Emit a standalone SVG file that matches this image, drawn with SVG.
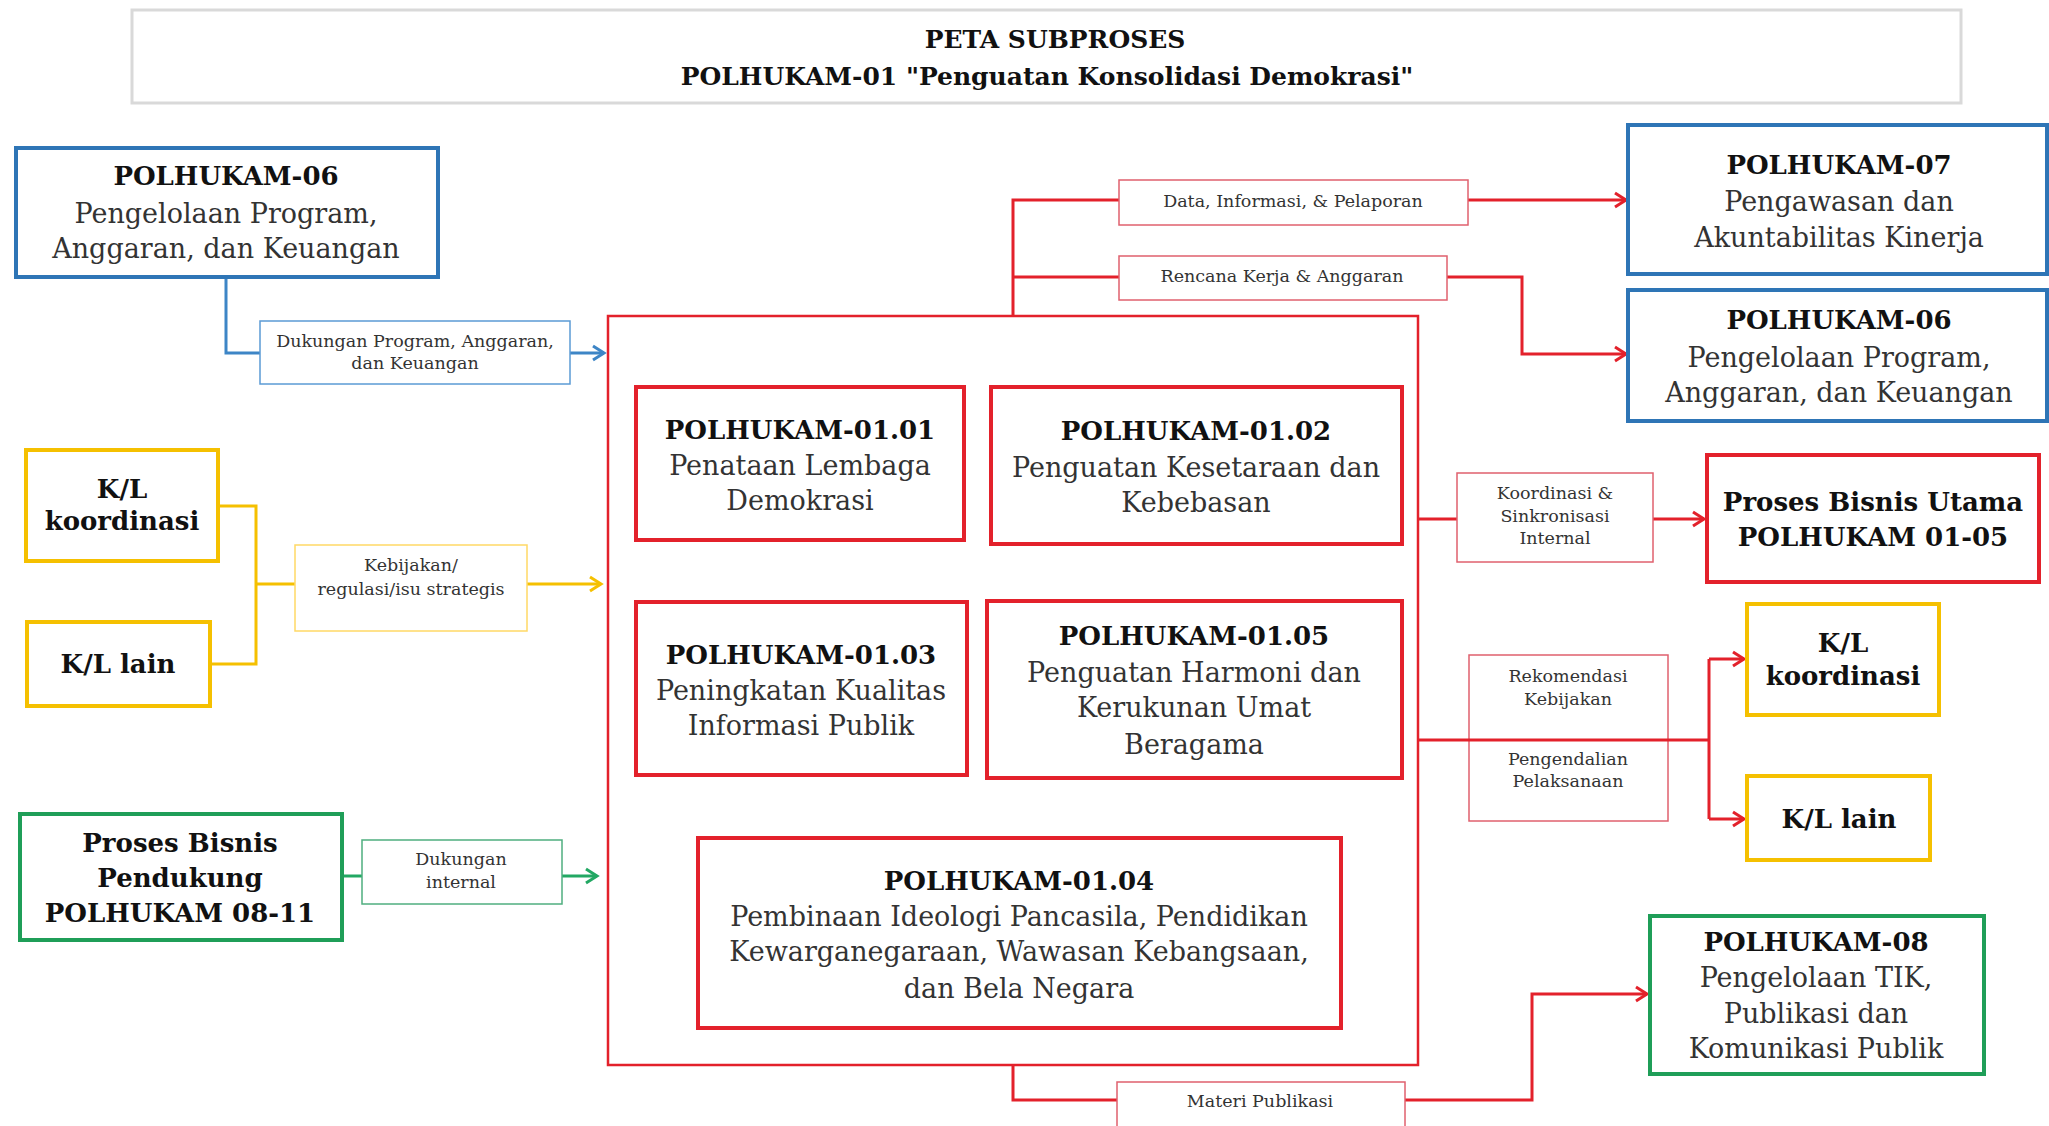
<svg xmlns="http://www.w3.org/2000/svg" width="2049" height="1126" viewBox="0 0 2049 1126">
<defs>
<style>
text{font-family:"DejaVu Serif","Liberation Serif",serif;text-anchor:middle;dominant-baseline:central;}
.h{font-weight:bold;font-size:26px;fill:#111;}
.b{font-size:27px;fill:#333;}
.t{font-weight:bold;font-size:25px;fill:#111;}
.l{font-size:17.5px;fill:#333;}
.nb{fill:#fff;stroke:#2e75b6;stroke-width:4;}
.ny{fill:#fff;stroke:#f5c000;stroke-width:4;}
.ng{fill:#fff;stroke:#1f9e58;stroke-width:4;}
.nr{fill:#fff;stroke:#e3212b;stroke-width:4;}
.lb{fill:#fff;stroke:#5b9bd5;stroke-width:1.5;}
.ly{fill:#fff;stroke:#ffd966;stroke-width:1.5;}
.lg{fill:#fff;stroke:#4fae7f;stroke-width:1.5;}
.lr{fill:#fff;stroke:#e0606e;stroke-width:1.5;}
.cb{fill:none;stroke:#3d85c6;stroke-width:3;}
.cy{fill:none;stroke:#f5c000;stroke-width:3;}
.cg{fill:none;stroke:#22a863;stroke-width:3;}
.cr{fill:none;stroke:#e3212b;stroke-width:3;}
</style>
<marker id="ab" markerUnits="userSpaceOnUse" markerWidth="16" markerHeight="18" refX="13" refY="9" orient="auto"><path d="M2,2 L13,9 L2,16" fill="none" stroke="#3d85c6" stroke-width="3"/></marker>
<marker id="ay" markerUnits="userSpaceOnUse" markerWidth="16" markerHeight="18" refX="13" refY="9" orient="auto"><path d="M2,2 L13,9 L2,16" fill="none" stroke="#f5c000" stroke-width="3"/></marker>
<marker id="ag" markerUnits="userSpaceOnUse" markerWidth="16" markerHeight="18" refX="13" refY="9" orient="auto"><path d="M2,2 L13,9 L2,16" fill="none" stroke="#22a863" stroke-width="3"/></marker>
<marker id="ar" markerUnits="userSpaceOnUse" markerWidth="16" markerHeight="18" refX="13" refY="9" orient="auto"><path d="M2,2 L13,9 L2,16" fill="none" stroke="#e3212b" stroke-width="3"/></marker>
</defs>
<rect width="2049" height="1126" fill="#fff"/>

<g id="title">
<rect x="132" y="10" width="1829" height="93" fill="#fff" stroke="#d9d9d9" stroke-width="3"/>
<text class="t" x="1055" y="39">PETA SUBPROSES</text>
<text class="t" x="1047" y="76">POLHUKAM-01 "Penguatan Konsolidasi Demokrasi"</text>
</g>

<g id="container">
<rect x="608" y="316" width="810" height="749" fill="#fff" stroke="#e3212b" stroke-width="2.5"/>
</g>

<g id="connectors">
<path class="cb" d="M226,277 V353 H260"/>
<path class="cb" d="M570,353 H604" marker-end="url(#ab)"/>
<path class="cy" d="M218,506 H256 V664 H210 M256,584 H295"/>
<path class="cy" d="M527,584 H601" marker-end="url(#ay)"/>
<path class="cg" d="M342,876 H362"/>
<path class="cg" d="M562,876 H597" marker-end="url(#ag)"/>
<path class="cr" d="M1013,316 V200 H1119 M1013,277 H1119"/>
<path class="cr" d="M1468,200 H1626" marker-end="url(#ar)"/>
<path class="cr" d="M1447,277 H1522 V354 H1626" marker-end="url(#ar)"/>
<path class="cr" d="M1418,519 H1457"/>
<path class="cr" d="M1653,519 H1704" marker-end="url(#ar)"/>
<path class="cr" d="M1013,1065 V1100 H1117"/>
<path class="cr" d="M1405,1100 H1532 V994 H1647" marker-end="url(#ar)"/>
</g>

<g id="lbl-dukungan-program">
<rect class="lb" x="260" y="321" width="310" height="63"/>
<text class="l" x="415" y="341">Dukungan Program, Anggaran,</text>
<text class="l" x="415" y="363">dan Keuangan</text>
</g>
<g id="lbl-kebijakan">
<rect class="ly" x="295" y="545" width="232" height="86"/>
<text class="l" x="411" y="565">Kebijakan/</text>
<text class="l" x="411" y="589">regulasi/isu strategis</text>
</g>
<g id="lbl-dukungan-internal">
<rect class="lg" x="362" y="840" width="200" height="64"/>
<text class="l" x="461" y="859">Dukungan</text>
<text class="l" x="461" y="882">internal</text>
</g>
<g id="lbl-data">
<rect class="lr" x="1119" y="180" width="349" height="45"/>
<text class="l" x="1293" y="201">Data, Informasi, &amp; Pelaporan</text>
</g>
<g id="lbl-rencana">
<rect class="lr" x="1119" y="256" width="328" height="44"/>
<text class="l" x="1282" y="276">Rencana Kerja &amp; Anggaran</text>
</g>
<g id="lbl-koordinasi">
<rect class="lr" x="1457" y="473" width="196" height="89"/>
<text class="l" x="1555" y="493">Koordinasi &amp;</text>
<text class="l" x="1555" y="516">Sinkronisasi</text>
<text class="l" x="1555" y="538">Internal</text>
</g>
<g id="lbl-rekomendasi">
<rect class="lr" x="1469" y="655" width="199" height="166"/>
<text class="l" x="1568" y="676">Rekomendasi</text>
<text class="l" x="1568" y="699">Kebijakan</text>
<text class="l" x="1568" y="759">Pengendalian</text>
<text class="l" x="1568" y="781">Pelaksanaan</text>
</g>
<g id="lbl-materi">
<rect class="lr" x="1117" y="1082" width="288" height="50"/>
<text class="l" x="1260" y="1101">Materi Publikasi</text>
</g>

<g id="connectors-over">
<path class="cr" d="M1418,740 H1709 M1709,659 V819"/>
<path class="cr" d="M1709,659 H1744" marker-end="url(#ar)"/>
<path class="cr" d="M1709,819 H1744" marker-end="url(#ar)"/>
</g>

<g id="n-polhukam06-left">
<rect class="nb" x="16" y="148" width="422" height="129"/>
<text class="h" x="226" y="176">POLHUKAM-06</text>
<text class="b" x="226" y="213">Pengelolaan Program,</text>
<text class="b" x="226" y="248">Anggaran, dan Keuangan</text>
</g>
<g id="n-kl-koordinasi-left">
<rect class="ny" x="26" y="450" width="192" height="111"/>
<text class="h" x="122" y="489">K/L</text>
<text class="h" x="122" y="521">koordinasi</text>
</g>
<g id="n-kl-lain-left">
<rect class="ny" x="27" y="622" width="183" height="84"/>
<text class="h" x="118" y="664">K/L lain</text>
</g>
<g id="n-pendukung">
<rect class="ng" x="20" y="814" width="322" height="126"/>
<text class="h" x="180" y="843">Proses Bisnis</text>
<text class="h" x="180" y="878">Pendukung</text>
<text class="h" x="180" y="913">POLHUKAM 08-11</text>
</g>

<g id="n-0101">
<rect class="nr" x="636" y="387" width="328" height="153"/>
<text class="h" x="800" y="430">POLHUKAM-01.01</text>
<text class="b" x="800" y="465">Penataan Lembaga</text>
<text class="b" x="800" y="500">Demokrasi</text>
</g>
<g id="n-0102">
<rect class="nr" x="991" y="387" width="411" height="157"/>
<text class="h" x="1196" y="431">POLHUKAM-01.02</text>
<text class="b" x="1196" y="467">Penguatan Kesetaraan dan</text>
<text class="b" x="1196" y="502">Kebebasan</text>
</g>
<g id="n-0103">
<rect class="nr" x="636" y="602" width="331" height="173"/>
<text class="h" x="801" y="655">POLHUKAM-01.03</text>
<text class="b" x="801" y="690">Peningkatan Kualitas</text>
<text class="b" x="801" y="725">Informasi Publik</text>
</g>
<g id="n-0105">
<rect class="nr" x="987" y="601" width="415" height="177"/>
<text class="h" x="1194" y="636">POLHUKAM-01.05</text>
<text class="b" x="1194" y="672">Penguatan Harmoni dan</text>
<text class="b" x="1194" y="707">Kerukunan Umat</text>
<text class="b" x="1194" y="744">Beragama</text>
</g>
<g id="n-0104">
<rect class="nr" x="698" y="838" width="643" height="190"/>
<text class="h" x="1019" y="881">POLHUKAM-01.04</text>
<text class="b" x="1019" y="916">Pembinaan Ideologi Pancasila, Pendidikan</text>
<text class="b" x="1019" y="951">Kewarganegaraan, Wawasan Kebangsaan,</text>
<text class="b" x="1019" y="988">dan Bela Negara</text>
</g>

<g id="n-polhukam07">
<rect class="nb" x="1628" y="125" width="419" height="149"/>
<text class="h" x="1839" y="165">POLHUKAM-07</text>
<text class="b" x="1839" y="201">Pengawasan dan</text>
<text class="b" x="1839" y="237">Akuntabilitas Kinerja</text>
</g>
<g id="n-polhukam06-right">
<rect class="nb" x="1628" y="290" width="419" height="131"/>
<text class="h" x="1839" y="320">POLHUKAM-06</text>
<text class="b" x="1839" y="357">Pengelolaan Program,</text>
<text class="b" x="1839" y="392">Anggaran, dan Keuangan</text>
</g>
<g id="n-utama">
<rect class="nr" x="1707" y="455" width="332" height="127"/>
<text class="h" x="1873" y="502">Proses Bisnis Utama</text>
<text class="h" x="1873" y="537">POLHUKAM 01-05</text>
</g>
<g id="n-kl-koordinasi-right">
<rect class="ny" x="1747" y="604" width="192" height="111"/>
<text class="h" x="1843" y="643">K/L</text>
<text class="h" x="1843" y="676">koordinasi</text>
</g>
<g id="n-kl-lain-right">
<rect class="ny" x="1747" y="776" width="183" height="84"/>
<text class="h" x="1839" y="819">K/L lain</text>
</g>
<g id="n-polhukam08">
<rect class="ng" x="1650" y="916" width="334" height="158"/>
<text class="h" x="1816" y="942">POLHUKAM-08</text>
<text class="b" x="1816" y="977">Pengelolaan TIK,</text>
<text class="b" x="1816" y="1013">Publikasi dan</text>
<text class="b" x="1816" y="1048">Komunikasi Publik</text>
</g>
</svg>
